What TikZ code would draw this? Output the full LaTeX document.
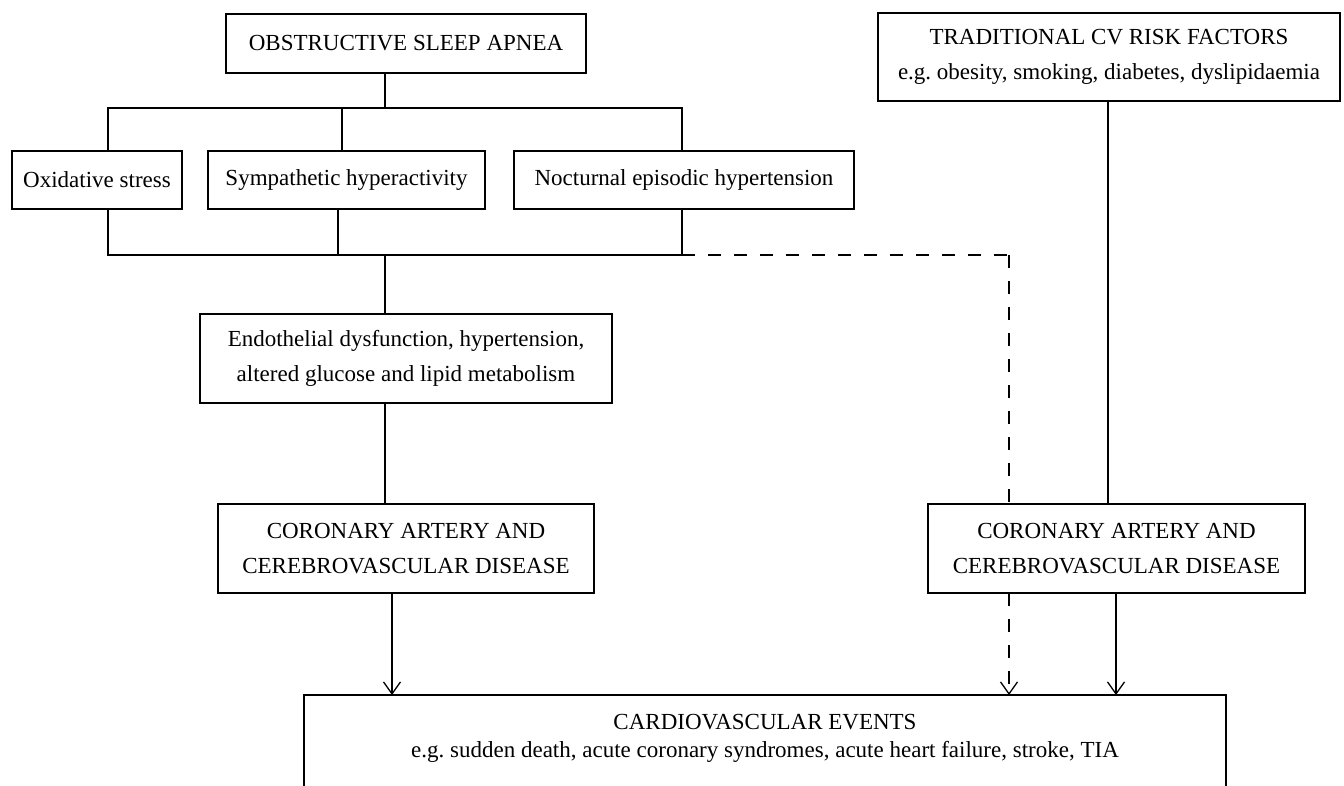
\documentclass[tikz,border=0pt]{standalone}
\usepackage{fontspec}
\setmainfont{Liberation Serif}
\usetikzlibrary{arrows.meta,backgrounds}
\tikzset{
  box/.style={draw, fill=white, line width=1.6pt, align=center, inner sep=0pt,
    font=\fontsize{23}{35}\selectfont},
  conn/.style={line width=1.3pt},
  dconn/.style={line width=1.3pt, dash pattern=on 13pt off 13pt},
  arr/.style={-{Straight Barb[length=12pt,width=17pt,line width=1.3pt]}},
}
\begin{document}
\begin{tikzpicture}[x=1pt,y=-1pt]
\clip (0,0) rectangle (1344,785);
% boxes
\node[box, minimum width=360pt, minimum height=59pt] (osa) at (406,43.5) {OBSTRUCTIVE SLEEP APNEA};
\node[box, minimum width=170pt, minimum height=58pt] (ox) at (97,180) {Oxidative stress};
\node[box, minimum width=277pt, minimum height=58pt] (sym) at (346.5,180) {Sympathetic hyperactivity};
\node[box, minimum width=340pt, minimum height=58pt] (noc) at (684,180) {Nocturnal episodic hypertension};
\node[box, minimum width=462pt, minimum height=88pt] (trad) at (1109,57) {TRADITIONAL CV RISK FACTORS\\e.g.\ obesity, smoking, diabetes, dyslipidaemia};
\node[box, minimum width=412pt, minimum height=89pt] (endo) at (406,358.5) {Endothelial dysfunction, hypertension,\\altered glucose and lipid metabolism};
\node[box, minimum width=376pt, minimum height=89pt] (cadl) at (406,548.5) {CORONARY ARTERY AND\\CEREBROVASCULAR DISEASE};
\node[box, minimum width=377pt, minimum height=89pt] (cadr) at (1116.5,548.5) {CORONARY ARTERY AND\\CEREBROVASCULAR DISEASE};
\node[align=center, inner sep=0pt, minimum width=922pt, minimum height=86pt, anchor=north,
  font=\fontsize{23}{28}\selectfont] (events) at (765,695)
  {CARDIOVASCULAR EVENTS\\e.g.\ sudden death, acute coronary syndromes, acute heart failure, stroke, TIA};
\draw[line width=1.6pt] ([yshift=-60pt]events.south west) -- (events.north west) -- (events.north east) -- ([yshift=-60pt]events.south east);
\begin{scope}[on background layer]
\fill[white] (0,0) rectangle (1344,785);
% top tree
\coordinate (b1) at (385,108);
\draw[conn] (osa.south -| b1) -- (b1);
\draw[conn] (ox.north -| 108,0) |- (b1) -| (noc.north -| 682,0);
\draw[conn] (sym.north -| 342,0) -- (342,108);
% lower join
\coordinate (b2) at (385,255);
\draw[conn] (ox.south -| 108,0) |- (b2) -| (noc.south -| 682,0);
\draw[conn] (sym.south -| 338,0) -- (338,255);
\draw[conn] (b2) -- (endo.north -| b2);
\coordinate (dc) at (1009,255);
\draw[dconn] (682,255) -- (dc);
\draw[dconn, arr] (dc) -- (events.north -| dc);
% chain
\draw[conn] (endo.south -| 385,0) -- (cadl.north -| 385,0);
\draw[conn, arr] (cadl.south -| 392,0) -- (events.north -| 392,0);
\draw[conn] (trad.south -| 1108,0) -- (cadr.north -| 1108,0);
\draw[conn, arr] (cadr.south -| 1116,0) -- (events.north -| 1116,0);
\end{scope}
\end{tikzpicture}
\end{document}
